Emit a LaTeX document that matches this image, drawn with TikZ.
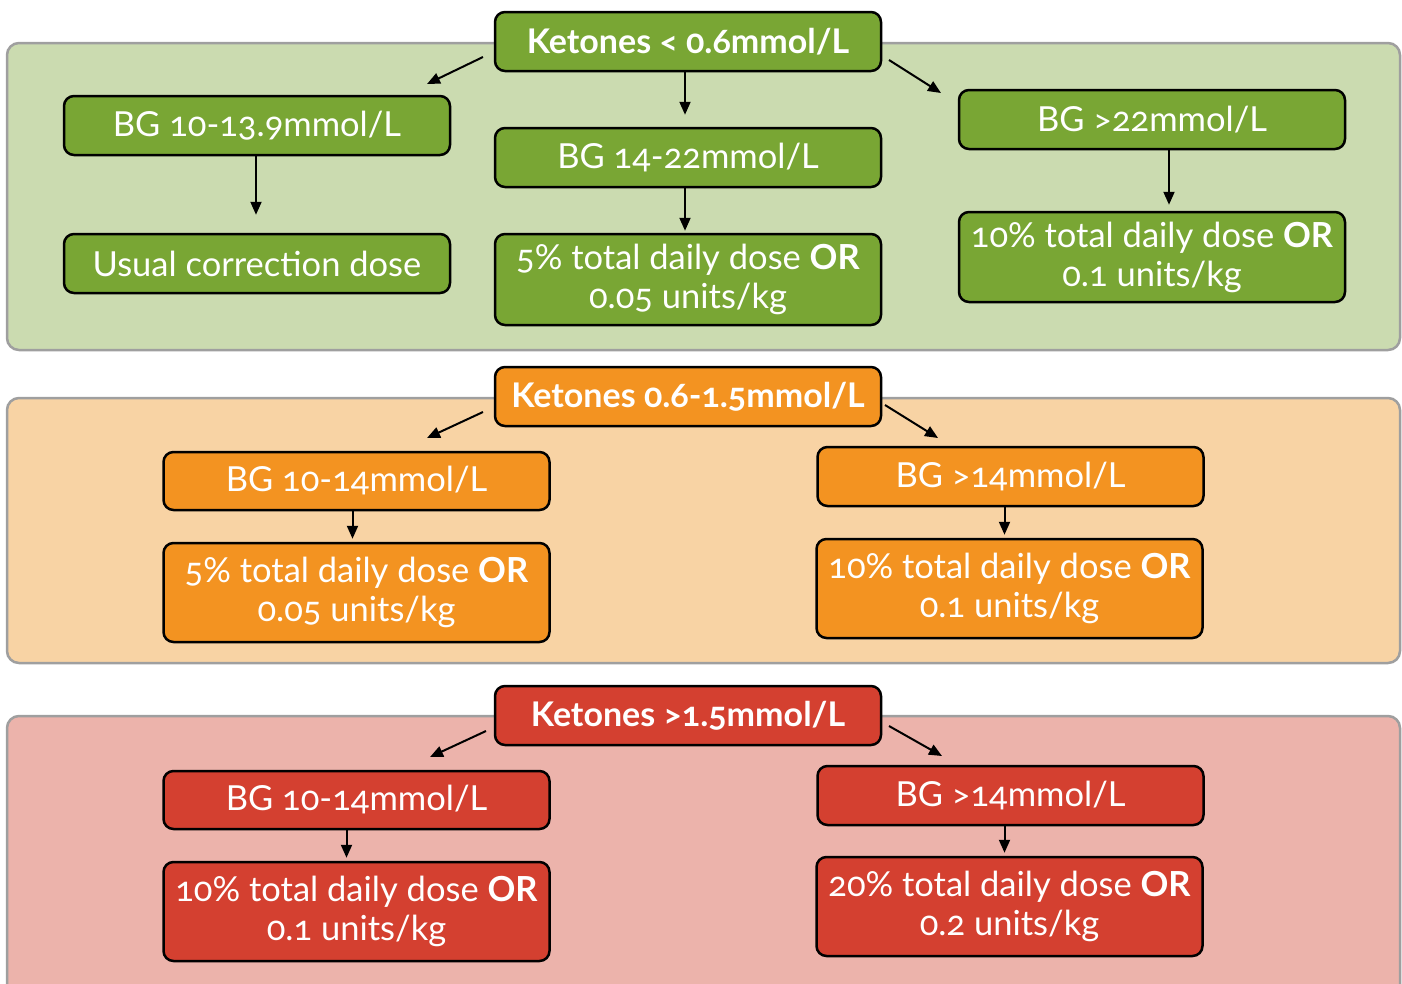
\documentclass[tikz,border=0pt]{standalone}
\usepackage{fontspec}
\setmainfont{Lato}[Numbers=OldStyle]
\usetikzlibrary{arrows.meta}

\definecolor{grnbox}{HTML}{79A634}
\definecolor{grnbg}{HTML}{CBDBB0}
\definecolor{orgbox}{HTML}{F39321}
\definecolor{orgbg}{HTML}{F8D3A4}
\definecolor{redbox}{HTML}{D44030}
\definecolor{redbg}{HTML}{ECB3AB}

\begin{document}
\begin{tikzpicture}[x=1pt, y=-1pt, >={Triangle[length=13pt,width=11pt]},
    panel/.style={draw=gray!75, line width=2.5pt, rounded corners=12pt},
    box/.style={draw=black, line width=2.5pt, rounded corners=10pt, text=white,
        minimum width=386pt, minimum height=59pt, inner sep=0pt, align=center,
        font=\fontsize{34.5}{39}\selectfont},
    head/.style={box, font=\fontsize{34}{39}\selectfont\bfseries},
    arr/.style={->, line width=2pt}]
    \clip (0,0) rectangle (1402,983);

    % ketones < 0.6
    \draw[panel, fill=grnbg] (7,43) rectangle (1400,350);
    \node[head, fill=grnbox] (k1) at (688,41.5) {Ketones < 0.6mmol/L};
    \node[box, fill=grnbox] (g1) at (257,125.5) {BG 10-13.9mmol/L};
    \node[box, fill=grnbox] (g2) at (688,157.5) {BG 14-22mmol/L};
    \node[box, fill=grnbox] (g3) at (1152,119.5) {BG >22mmol/L};
    \node[box, fill=grnbox] (d1) at (257,263.5) {Usual correction dose};
    \node[box, fill=grnbox, minimum height=91pt] (d2) at (688,279.5) {5\% total daily dose \textbf{OR}\\0.05 units/kg};
    \node[box, fill=grnbox, minimum height=90pt] (d3) at (1152,257) {10\% total daily dose \textbf{OR}\\0.1 units/kg};
    \coordinate (a1) at (483,57);  \coordinate (b1) at (427,84);
    \coordinate (a2) at (889,60);  \coordinate (b2) at (941,93);
    \draw[arr] (a1) -- (b1);
    \draw[arr] (a2) -- (b2);
    \draw[arr, shorten >=12pt] ([xshift=-3pt]k1.south) -- ([xshift=-3pt]g2.north);
    \draw[arr, shorten >=18pt] ([xshift=-1pt]g1.south) -- ([xshift=-1pt]d1.north);
    \draw[arr, shorten >=2pt] ([xshift=-3pt]g2.south) -- ([xshift=-3pt]d2.north);
    \draw[arr, shorten >=6pt] ([xshift=17pt]g3.south) -- ([xshift=17pt]d3.north);

    % ketones 0.6-1.5
    \draw[panel, fill=orgbg] (7,398) rectangle (1400,663);
    \node[head, fill=orgbox] (k2) at (688,396.5) {Ketones 0.6-1.5mmol/L};
    \node[box, fill=orgbox, minimum height=58pt] (g4) at (356.5,481) {BG 10-14mmol/L};
    \node[box, fill=orgbox] (g5) at (1010.5,476.5) {BG >14mmol/L};
    \node[box, fill=orgbox, minimum height=99pt] (d4) at (356.5,592.5) {5\% total daily dose \textbf{OR}\\0.05 units/kg};
    \node[box, fill=orgbox, minimum height=99pt] (d5) at (1009.5,588.5) {10\% total daily dose \textbf{OR}\\0.1 units/kg};
    \coordinate (a3) at (483,412);  \coordinate (b3) at (427,438);
    \coordinate (a4) at (885,405);  \coordinate (b4) at (938,438);
    \draw[arr] (a3) -- (b3);
    \draw[arr] (a4) -- (b4);
    \draw[arr, shorten >=3pt] ([xshift=-4pt]g4.south) -- ([xshift=-4pt]d4.north);
    \draw[arr, shorten >=3pt] ([xshift=-6pt]g5.south) -- ([xshift=-5pt]d5.north);

    % ketones > 1.5
    \draw[panel, fill=redbg] (7,716) rectangle (1400,1010);
    \node[head, fill=redbox] (k3) at (688,715.5) {Ketones >1.5mmol/L};
    \node[box, fill=redbox, minimum height=58pt] (g6) at (356.5,800) {BG 10-14mmol/L};
    \node[box, fill=redbox] (g7) at (1010.5,795.5) {BG >14mmol/L};
    \node[box, fill=redbox, minimum height=99pt] (d6) at (356.5,911.5) {10\% total daily dose \textbf{OR}\\0.1 units/kg};
    \node[box, fill=redbox, minimum height=99pt] (d7) at (1009.5,906.5) {20\% total daily dose \textbf{OR}\\0.2 units/kg};
    \coordinate (a5) at (486,731);  \coordinate (b5) at (430,757);
    \coordinate (a6) at (889,726);  \coordinate (b6) at (942,756);
    \draw[arr] (a5) -- (b5);
    \draw[arr] (a6) -- (b6);
    \draw[arr, shorten >=3pt] ([xshift=-10pt]g6.south) -- ([xshift=-10pt]d6.north);
    \draw[arr, shorten >=3pt] ([xshift=-6pt]g7.south) -- ([xshift=-5pt]d7.north);

\end{tikzpicture}
\end{document}
